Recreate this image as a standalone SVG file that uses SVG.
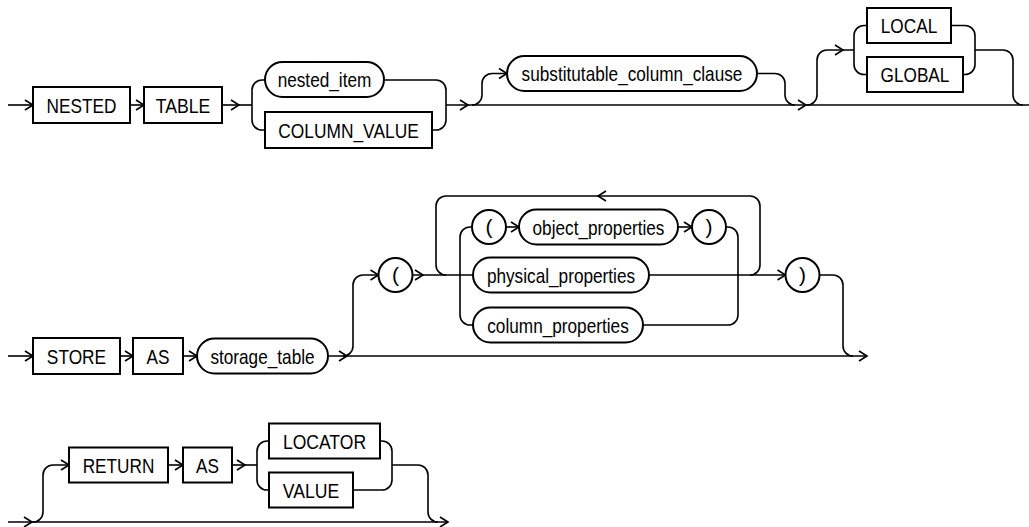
<svg xmlns="http://www.w3.org/2000/svg" xmlns:xlink="http://www.w3.org/1999/xlink" width="1029" height="527" viewBox="0 0 1029 527">
<style>
.n{fill:#fff;stroke:#000;stroke-width:2}
.t{font-family:"Liberation Sans",Arial,sans-serif;font-size:21px;fill:#000;text-anchor:middle}
.c{fill:none;stroke:#000;stroke-width:1.6}
.a{fill:none;stroke:#000;stroke-width:1.6;stroke-linejoin:miter}
</style>
<defs>
<path id="ah" class="a" d="M-8,-5 L0,0 L-8,5"/>
</defs>
<rect width="1029" height="527" fill="#fff"/>
<g id="connectors">
<!-- row 1 -->
<path class="c" d="M8,105 H33"/>
<path class="c" d="M130,105 H144"/>
<path class="c" d="M222,105 H252"/>
<path class="c" d="M265,80 H262 A10,10 0 0 0 252,90 V120 A10,10 0 0 0 262,130 H265"/>
<path class="c" d="M384,80 H436 A10,10 0 0 1 446,90 V120 A10,10 0 0 1 436,130 H432"/>
<path class="c" d="M446,105 H1029"/>
<path class="c" d="M472,105 A10,10 0 0 0 482,95 V83.5 A10,10 0 0 1 492,73.5 H507"/>
<path class="c" d="M757,73.5 H775 A10,10 0 0 1 785,83.5 V95 A10,10 0 0 0 795,105"/>
<path class="c" d="M807,105 A10,10 0 0 0 817,95 V60 A10,10 0 0 1 827,50 H854"/>
<path class="c" d="M867,25.5 H864 A10,10 0 0 0 854,35.5 V64.5 A10,10 0 0 0 864,74.5 H867"/>
<path class="c" d="M951,25.5 H965 A10,10 0 0 1 975,35.5 V64.5 A10,10 0 0 1 965,74.5 H963"/>
<path class="c" d="M975,50 H1003 A10,10 0 0 1 1013,60 V95 A10,10 0 0 0 1023,105"/>
<use xlink:href="#ah" x="33" y="105"/>
<use xlink:href="#ah" x="144" y="105"/>
<use xlink:href="#ah" x="239" y="105"/>
<use xlink:href="#ah" x="468" y="105"/>
<use xlink:href="#ah" x="507" y="73.5"/>
<use xlink:href="#ah" x="806" y="105"/>
<use xlink:href="#ah" x="843" y="50"/>
<!-- row 2 -->
<path class="c" d="M8,356 H33"/>
<path class="c" d="M120,356 H133"/>
<path class="c" d="M183,356 H197"/>
<path class="c" d="M328,356 H867"/>
<path class="c" d="M343,356 A10,10 0 0 0 353,346 V285 A10,10 0 0 1 363,275 H378.5"/>
<path class="c" d="M412.5,275 H473"/>
<path class="c" d="M750,275 A10,10 0 0 0 760,265 V206 A10,10 0 0 0 750,196 H446 A10,10 0 0 0 436,206 V265 A10,10 0 0 0 446,275"/>
<path class="c" d="M472,227 H470 A10,10 0 0 0 460,237 V315 A10,10 0 0 0 470,325 H473"/>
<path class="c" d="M506,227 H519"/>
<path class="c" d="M678,227 H692"/>
<path class="c" d="M726,227 H728 A10,10 0 0 1 738,237 V315 A10,10 0 0 1 728,325 H643"/>
<path class="c" d="M649,275 H785.5"/>
<path class="c" d="M819.5,275 H833 A10,10 0 0 1 843,285 V346 A10,10 0 0 0 853,356"/>
<use xlink:href="#ah" x="33" y="356"/>
<use xlink:href="#ah" x="133" y="356"/>
<use xlink:href="#ah" x="197" y="356"/>
<use xlink:href="#ah" x="347" y="356"/>
<use xlink:href="#ah" x="378.5" y="275"/>
<use xlink:href="#ah" x="423" y="275"/>
<use xlink:href="#ah" x="519" y="227"/>
<use xlink:href="#ah" x="692" y="227"/>
<use xlink:href="#ah" x="785.5" y="275"/>
<use xlink:href="#ah" x="867" y="356"/>
<use xlink:href="#ah" transform="translate(598,196) rotate(180)"/>
<!-- row 3 -->
<path class="c" d="M8,522 H448"/>
<path class="c" d="M33,522 A10,10 0 0 0 43,512 V475 A10,10 0 0 1 53,465 H69"/>
<path class="c" d="M168,465 H183"/>
<path class="c" d="M232,465 H257"/>
<path class="c" d="M269,441 H267 A10,10 0 0 0 257,451 V480 A10,10 0 0 0 267,490 H269"/>
<path class="c" d="M380,441 H382 A10,10 0 0 1 392,451 V480 A10,10 0 0 1 382,490 H353"/>
<path class="c" d="M392,465 H418 A10,10 0 0 1 428,475 V512 A10,10 0 0 0 438,522"/>
<use xlink:href="#ah" x="32" y="522"/>
<use xlink:href="#ah" x="69" y="465"/>
<use xlink:href="#ah" x="183" y="465"/>
<use xlink:href="#ah" x="245" y="465"/>
<use xlink:href="#ah" x="448" y="522"/>
</g>
<!-- row 1 nodes -->
<g id="nested"><rect class="n" x="33" y="87" width="97" height="36"/><text class="t" x="81.5" y="112.5" textLength="70" lengthAdjust="spacingAndGlyphs">NESTED</text></g>
<g id="table"><rect class="n" x="144" y="87" width="78" height="36"/><text class="t" x="183" y="112.5" textLength="54.5" lengthAdjust="spacingAndGlyphs">TABLE</text></g>
<g id="nested_item"><rect class="n" x="265" y="62" width="119" height="35" rx="17.5"/><text class="t" x="324.5" y="87" textLength="93.7" lengthAdjust="spacingAndGlyphs">nested_item</text></g>
<g id="column_value"><rect class="n" x="265" y="112" width="167" height="36"/><text class="t" x="348.5" y="137.5" textLength="140.5" lengthAdjust="spacingAndGlyphs">COLUMN_VALUE</text></g>
<g id="substitutable_column_clause"><rect class="n" x="507" y="56" width="250" height="35" rx="17.5"/><text class="t" x="632" y="81" textLength="220.8" lengthAdjust="spacingAndGlyphs">substitutable_column_clause</text></g>
<g id="local"><rect class="n" x="867" y="8" width="84" height="35"/><text class="t" x="909" y="33" textLength="56.4" lengthAdjust="spacingAndGlyphs">LOCAL</text></g>
<g id="global"><rect class="n" x="867" y="57" width="96" height="35"/><text class="t" x="915" y="82" textLength="68.8" lengthAdjust="spacingAndGlyphs">GLOBAL</text></g>
<!-- row 2 nodes -->
<g id="store"><rect class="n" x="33" y="338" width="87" height="36"/><text class="t" x="76.5" y="363.5" textLength="59.3" lengthAdjust="spacingAndGlyphs">STORE</text></g>
<g id="as1"><rect class="n" x="133" y="338" width="50" height="36"/><text class="t" x="158" y="363.5" textLength="22.9" lengthAdjust="spacingAndGlyphs">AS</text></g>
<g id="storage_table"><rect class="n" x="197" y="338.5" width="131" height="35" rx="17.5"/><text class="t" x="262.5" y="363.5" textLength="104.2" lengthAdjust="spacingAndGlyphs">storage_table</text></g>
<g id="lparen_outer"><circle class="n" cx="395.5" cy="275" r="17"/><text class="t" x="395.5" y="282">(</text></g>
<g id="lparen_inner"><circle class="n" cx="489" cy="227" r="17"/><text class="t" x="489" y="234">(</text></g>
<g id="object_properties"><rect class="n" x="519" y="209.5" width="159" height="35" rx="17.5"/><text class="t" x="598.5" y="234.5" textLength="131.9" lengthAdjust="spacingAndGlyphs">object_properties</text></g>
<g id="rparen_inner"><circle class="n" cx="709" cy="227" r="17"/><text class="t" x="709" y="234">)</text></g>
<g id="physical_properties"><rect class="n" x="473" y="257.5" width="176" height="35" rx="17.5"/><text class="t" x="561" y="282.5" textLength="148.2" lengthAdjust="spacingAndGlyphs">physical_properties</text></g>
<g id="column_properties"><rect class="n" x="473" y="307.5" width="170" height="35" rx="17.5"/><text class="t" x="558" y="332.5" textLength="141.5" lengthAdjust="spacingAndGlyphs">column_properties</text></g>
<g id="rparen_outer"><circle class="n" cx="802.5" cy="275" r="17"/><text class="t" x="802.5" y="282">)</text></g>
<!-- row 3 nodes -->
<g id="return"><rect class="n" x="69" y="447.5" width="99" height="35"/><text class="t" x="118.5" y="472.5" textLength="71.7" lengthAdjust="spacingAndGlyphs">RETURN</text></g>
<g id="as2"><rect class="n" x="183" y="447.5" width="49" height="35"/><text class="t" x="207.5" y="472.5" textLength="22.9" lengthAdjust="spacingAndGlyphs">AS</text></g>
<g id="locator"><rect class="n" x="269" y="423.5" width="111" height="35"/><text class="t" x="324.5" y="448.5" textLength="83.1" lengthAdjust="spacingAndGlyphs">LOCATOR</text></g>
<g id="value"><rect class="n" x="269" y="472.5" width="84" height="35"/><text class="t" x="311" y="497.5" textLength="56.4" lengthAdjust="spacingAndGlyphs">VALUE</text></g>
</svg>
